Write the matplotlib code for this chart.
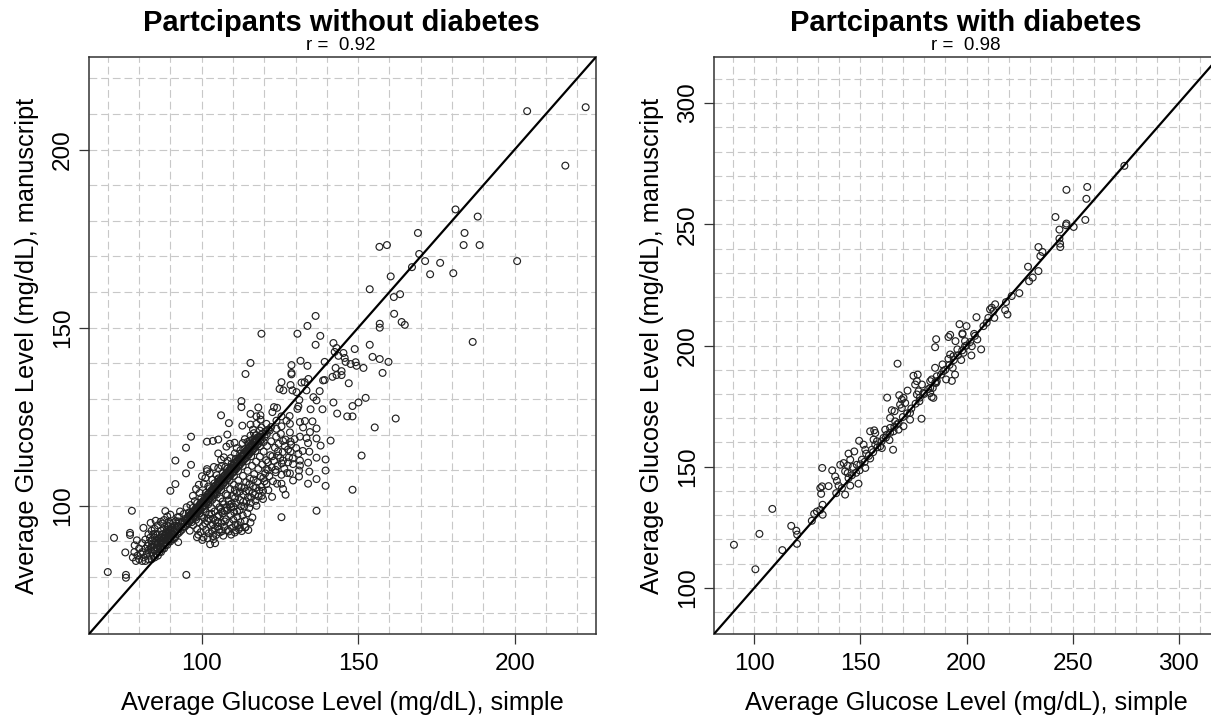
import numpy as np
import matplotlib
matplotlib.use("Agg")
import matplotlib.pyplot as plt

plt.rcParams['font.family'] = ['Liberation Sans', 'DejaVu Sans']

# ejes
left_ticks = [100, 150, 200]
right_ticks = [100, 150, 200, 250, 300]
left_grid = [70, 80, 90, 100, 110, 120, 130, 140, 150, 160, 170, 180, 190, 200, 210, 220]
right_grid = [90, 100, 110, 120, 130, 140, 150, 160, 170, 180, 190, 200, 210, 220, 230, 240,
              250, 260, 270, 280, 290, 300, 310]
left_lim = (64, 226)
right_lim = (81, 319)

# sin diabetes: puntos sueltos (simple, manuscript)
left_sparse = [
    (204, 210.8), (222.7, 211.9), (216.2, 195.5), (181.1, 183.2), (188.2, 181.2), (169.1, 176.6),
    (184, 176.6), (159.2, 173.2), (156.8, 172.7), (183.7, 173.2), (188.8, 173.2), (169.5, 170.7),
    (171.4, 168.7), (167.2, 167), (176.2, 168.2), (200.8, 168.7), (173, 165), (180.4, 165.3),
    (160.4, 164.4), (153.7, 160.8), (161.4, 158.6), (163.4, 159.4),
    (136.4, 153.3), (133.8, 150.5), (137.9, 147.7), (130.6, 148.3), (119.1, 148.3), (161.5, 153.9),
    (163.9, 151.6), (164.9, 150.8), (156.9, 151.1), (156.9, 150), (186.6, 146), (136.4, 145.2),
    (142.1, 145.7), (153.7, 145.2), (148.9, 144), (143.1, 144.3), (142.5, 143.2), (145.3, 142.9),
    (143.7, 142.1), (145.7, 141.5), (154.6, 141.8), (156.9, 141.2), (159.7, 140.4), (146, 140.4),
    (147.6, 139.8), (149.2, 140.3), (149.5, 139.3), (151.7, 138.7), (157.8, 137.3), (139.3, 140.4),
    (131.6, 140.7), (128.7, 139.5), (133.8, 139.3), (115.6, 140.1), (114, 137), (128.7, 137.3),
    (128.7, 136.9), (142.8, 138.7), (144.7, 137.8), (143.1, 136.7), (144.7, 136.7), (141.8, 136.2),
    (139.3, 135.3), (138.8, 135.2), (134.1, 135.6), (147, 134.4), (125.5, 134.7), (131.9, 134.6),
    (132.9, 134.7), (128.4, 133.9), (124.9, 132.8), (126.1, 132.4), (129, 132.4), (130.3, 131.9),
    (133.5, 132.4), (137.7, 132.2), (135.7, 130.5), (136.7, 129.6), (131.2, 129.7), (142.1, 129),
    (152.4, 130.3), (150.1, 129), (148.2, 128), (134.8, 127.1), (138.6, 127.1), (130.9, 127.9),
    (130.6, 127.2), (143.3, 125.9), (146.5, 125.1), (148.2, 125.1), (162, 124.5), (155.3, 122),
    (123.1, 127.7), (124.1, 127.5), (118.1, 127.6), (122.6, 126.3), (112.7, 129.4), (112.7, 127.7),
    (115.6, 125.8), (117.5, 125.1), (118.8, 125.4), (118.8, 124.2), (125.5, 125.1), (128.1, 125.2),
    (123.9, 123.9), (127.1, 123.9), (113, 122.5), (115.6, 122.8), (117.5, 123), (119.1, 122),
    (120.7, 123), (116.4, 121.4), (115.6, 119.7), (123.9, 121.6), (125.5, 122.3), (128.2, 123),
    (131.4, 123.5), (133, 123.8), (135.4, 123.7), (136.7, 121.7), (132.4, 122), (134.6, 120.7),
    (131.4, 119.4), (133.5, 119), (136.7, 118.9), (141.2, 118.3), (138, 116.9), (134, 117.6),
    (126, 118.2), (128.4, 118), (128.2, 120.6), (127.6, 115.8), (128.4, 115.2), (134.4, 115.2),
    (151.1, 114.1), (136.7, 113.5), (139.6, 113), (130.9, 114.6), (131.4, 112.7), (131.4, 111.3),
    (134, 112.1), (129.2, 111.7), (127.6, 112.2), (126, 112.7), (124.4, 114.1), (139.6, 109.9),
    (134.4, 109.6), (131.1, 109.9), (128.2, 109.1), (125.5, 108.7), (123.7, 109.4), (121.2, 110),
    (131.1, 108.2), (129.2, 107.1), (136.7, 107.5), (134, 106.2), (139.6, 105.6), (148.2, 104.5),
    (124.1, 106.2), (125.5, 106.2), (126, 104.7), (126.8, 103.1), (122.5, 102.5), (119.6, 101.9),
    (119.6, 104.2), (120.7, 106.1), (117.5, 100), (136.7, 98.6), (125.5, 96.8),
    (70, 81.4), (75.8, 80.6), (75.8, 79.8), (95.1, 80.6), (72, 91), (75.6, 86.9), (77.7, 98.6),
    (77.1, 92.4), (77.1, 91.8), (81.4, 93.8), (78.6, 88.9), (79.3, 90.3), (88.4, 98.5), (83.7, 95.2),
    (85.3, 95.8), (86.9, 95.5), (90, 104.2), (91.6, 106.1), (91.6, 112.7), (95, 109.1), (96.6, 111.5),
    (95, 116.3), (96.6, 119.4), (101.7, 118), (103.6, 118.2), (105.3, 118.6), (106.2, 125.4),
    (108.7, 123.2), (108.2, 120), (110.5, 117.7), (107.9, 116.6), (109, 117.4), (105.3, 114.7),
    (106.2, 112.9), (105.3, 110.6), (101.7, 110.3), (101.7, 109.7), (98.5, 91.2), (96.2, 93),
    (92.5, 89.8), (102.7, 89.2), (104.3, 89.5), (103.6, 91.5), (105.8, 92.5), (108.7, 92.8),
    (110.6, 92.5), (114, 94), (112.2, 93.9), (113.9, 93.9),
]

# sin diabetes: arranque de la nube, abajo a la izquierda
left_start = [
    (78, 85.5), (78.5, 87), (79, 84.5), (79.5, 86), (80, 85), (80, 88), (80.5, 86.5), (81, 84.5), (81, 87),
    (81, 89.5), (81.5, 85.5), (82, 88), (82, 90.5), (82, 84.5), (82.5, 86.5), (83, 85), (83, 87.5), (83, 89.5),
    (83, 92), (83.5, 86), (83.5, 91), (84, 85), (84, 87), (84, 88.5), (84, 90), (84, 93), (84.5, 86), (84.5, 92),
    (85, 85.5), (85, 87.5), (85, 89), (85, 91), (85, 93.5), (85.5, 86.5), (85.5, 90), (86, 86), (86, 88), (86, 89.5),
    (86, 92), (86, 94.5), (86.5, 87), (86.5, 91), (87, 87), (87, 88.5), (87, 90), (87, 93), (87.5, 88), (87.5, 92),
    (87.5, 95), (88, 88), (88, 89.5), (88, 91), (88, 93.5), (88, 96), (88.5, 89), (88.5, 92.5), (89, 89), (89, 90.5),
    (89, 92), (89, 94.5), (89, 97), (89.5, 90), (89.5, 93), (89.5, 95.5), (90, 90), (90, 91.5), (90, 93), (90, 95),
    (90, 97.5), (85.7, 88.3), (86.3, 90.7), (86.8, 89.2), (87.3, 91.1), (87.7, 89.6), (88.3, 90.4), (88.7, 91.3),
    (89.3, 91.6), (89.7, 92.4), (84.3, 89.1), (84.8, 87.6), (85.2, 92.2), (83.8, 88.2), (82.7, 88.7),
    (86.6, 88.1), (87.2, 90.2), (87.9, 90.8), (88.4, 91.8), (88.9, 93.2), (89.4, 94.2), (89.8, 91.1), (90.3, 92.2),
    (90.6, 93.8), (90.9, 95.1), (91.2, 92.9), (91.4, 94.4), (91.7, 95.7), (92.1, 94.2), (92.6, 95.6), (92.8, 96.9),
]

# sin diabetes: franja negra sobre la diagonal
left_core = [
    (90.4, 90.6), (90.8, 91.9), (91.1, 90.7), (91.3, 92.8), (91.6, 91.2), (91.9, 93.4), (92.2, 92.1), (92.4, 94.3),
    (92.7, 92.4), (92.9, 93.6), (93.2, 92.9), (93.4, 94.8), (93.7, 93.3), (93.9, 95.6), (94.2, 94.1), (94.4, 95.2),
    (94.7, 94.2), (94.9, 96.4), (95.1, 94.7), (95.3, 95.8), (95.6, 95.1), (95.8, 97.1), (96.1, 95.6), (96.2, 96.9),
    (96.5, 95.9), (96.7, 97.8), (96.9, 96.3), (97.1, 98.2), (97.3, 96.8), (97.4, 97.9), (97.7, 97.2), (97.9, 98.9),
    (98.1, 97.4), (98.2, 99.3), (98.4, 97.9), (98.6, 99.6), (98.8, 98.2), (99.1, 99.9), (99.2, 98.6), (99.4, 100.4),
    (99.6, 98.9), (99.8, 100.9), (100.1, 99.4), (100.2, 101.1), (100.4, 99.8), (100.7, 101.6), (100.9, 100.2),
    (101.1, 102.3), (101.3, 100.6), (101.4, 101.8), (101.7, 101.1), (101.9, 103.2), (102.1, 101.4), (102.3, 103.4),
    (102.4, 101.8), (102.7, 103.9), (102.9, 102.2), (103.1, 104.3), (103.2, 102.6), (103.4, 104.6), (103.7, 103.1),
    (103.9, 105.2), (104.1, 103.4), (104.2, 105.4), (104.4, 103.9), (104.7, 105.8), (104.9, 104.2), (105.1, 106.3),
    (105.2, 104.6), (105.4, 106.6), (105.7, 105.1), (105.9, 107.2), (106.1, 105.4), (106.2, 107.4), (106.4, 105.8),
    (106.7, 107.9), (106.9, 106.2), (107.1, 108.3), (107.2, 106.6), (107.4, 108.6), (107.7, 107.1), (107.9, 109.2),
    (108.1, 107.4), (108.2, 109.4), (108.4, 107.8), (108.7, 109.9), (108.9, 108.2), (109.1, 110.3), (109.2, 108.6),
    (109.4, 110.6), (109.7, 109.1), (109.9, 111.2), (110.1, 109.4), (110.2, 111.4), (110.4, 109.8), (110.7, 111.9),
    (110.9, 110.2), (111.1, 112.3), (111.2, 110.6), (111.4, 112.6), (111.7, 111.1), (111.9, 113.2), (112.1, 111.4),
    (112.2, 113.4), (112.4, 111.8), (112.7, 113.9), (112.9, 112.2), (113.1, 114.3), (113.2, 112.6), (113.4, 114.6),
    (113.7, 113.1), (113.9, 115.2), (114.1, 113.4), (114.2, 115.4), (114.4, 113.8), (114.7, 115.9), (114.9, 114.2),
    (115.1, 116.3), (115.2, 114.6), (115.4, 116.6), (115.7, 115.1), (115.9, 117.2), (116.1, 115.4), (116.2, 117.4),
    (116.4, 115.8), (116.7, 117.9), (116.9, 116.2), (117.1, 118.3), (117.2, 116.6), (117.4, 118.6), (117.7, 117.1),
    (117.9, 119.2), (118.1, 117.4), (118.4, 119.4), (118.7, 118.1), (118.9, 119.9), (119.2, 118.6), (119.6, 120.3),
    (120.1, 119.4), (120.4, 120.9), (120.8, 120.1), (121.3, 121.4), (121.7, 121.1), (122.2, 122.1),
    (96.3, 97.4), (97.6, 98.4), (98.9, 99.2), (100.3, 100.7), (101.6, 102.4), (102.8, 103.1), (104.3, 104.8),
    (105.6, 106.1), (106.8, 107.3), (108.3, 108.8), (109.6, 110.1), (110.8, 111.2), (112.3, 112.8), (113.6, 114.2),
    (114.8, 115.1), (116.3, 116.8), (117.6, 118.2), (118.8, 119.1),
    (95.4, 96.4), (96.6, 97.1), (97.2, 97.6), (98.3, 98.7), (99.3, 99.6), (100.6, 100.9), (101.2, 101.5), (102.2, 102.6),
    (103.3, 103.7), (104.6, 104.9), (105.3, 105.7), (106.3, 106.7), (107.3, 107.7), (108.6, 108.9), (109.3, 109.7),
    (110.3, 110.7), (111.3, 111.8), (112.6, 112.9), (113.3, 113.8), (114.3, 114.7), (115.3, 115.7), (116.6, 116.9),
    (117.3, 117.7), (118.3, 118.6), (96.8, 95.4), (98.1, 96.7), (99.4, 97.9), (100.7, 99.1), (102.1, 100.4), (103.4, 101.7),
    (104.8, 103.2), (106.2, 104.4), (107.6, 105.9), (108.9, 107.1), (110.3, 108.4), (111.6, 109.8), (113.1, 111.2),
    (114.4, 112.6), (115.8, 113.9), (117.2, 115.4), (118.6, 116.7), (119.8, 117.9), (95.9, 98.1), (97.2, 99.4),
    (98.6, 100.8), (99.9, 102.2), (101.3, 103.6), (102.6, 104.9), (104.1, 106.3), (105.4, 107.7), (106.8, 109.1),
    (108.1, 110.4), (109.6, 111.8), (110.9, 113.2), (112.3, 114.6), (113.7, 115.9), (115.1, 117.3), (116.4, 118.6),
]

# sin diabetes: puntos por encima de la franja
left_above = [
    (92.3, 96.8), (93.1, 98.4), (94.3, 97.7), (95.2, 99.6), (96.4, 100.2), (97.8, 101.3), (99.4, 103.6), (100.7, 106.2),
    (101.2, 107.8), (102.1, 105.4), (102.6, 109.1), (103.4, 107.3), (103.9, 110.9), (104.8, 108.6), (105.3, 107.4),
    (106.4, 111.2), (107.1, 113.6), (107.6, 110.9), (108.4, 112.6), (109.3, 113.4), (110.6, 114.7), (111.2, 116.2),
    (112.4, 115.6), (113.1, 117.6), (113.8, 118.7), (114.6, 117.9), (115.4, 118.3), (116.7, 120.4), (117.3, 119.8),
    (118.6, 121.1), (98.2, 104.7), (99.1, 105.9), (100.1, 108.3), (97.2, 102.8),
]

# sin diabetes: nube bajo la diagonal
left_below = [
    (97.3, 94.6), (98.2, 96.1), (98.6, 93.4), (99.1, 95.4), (99.7, 92.6), (99.9, 97.2), (100.4, 94.3), (100.8, 96.6),
    (100.6, 91.1), (101.3, 98.2), (101.4, 93.2), (101.8, 95.7), (102.3, 92.3), (102.4, 97.6), (102.9, 94.4), (103.2, 99.3),
    (103.3, 92.9), (103.7, 96.4), (104.1, 98.4), (104.2, 93.7), (104.6, 91.8), (104.7, 100.6), (105.1, 95.4), (105.4, 97.3),
    (105.6, 93.3), (105.9, 102.1), (106.1, 99.1), (106.3, 95.2), (106.6, 92.9), (106.8, 97.9), (107.1, 100.4), (107.2, 94.1),
    (107.7, 103.3), (107.8, 96.2), (108.1, 98.7), (108.3, 93.2), (108.6, 101.4), (108.8, 95.3), (109.1, 104.7), (109.2, 97.4),
    (109.4, 99.6), (109.7, 93.8), (109.9, 102.7), (110.1, 96.1), (110.3, 105.9), (110.4, 98.2), (110.8, 94.7), (111.1, 100.8),
    (111.2, 103.6), (111.4, 96.9), (111.7, 107.1), (111.9, 93.4), (112.1, 98.7), (112.3, 101.6), (112.4, 95.4), (112.7, 105.2),
    (113.1, 97.3), (113.2, 108.4), (113.4, 103.1), (113.6, 99.8), (113.8, 95.8), (114.2, 106.6), (114.3, 101.2), (114.6, 97.9),
    (114.7, 109.8), (115.1, 104.2), (115.2, 99.4), (115.4, 107.6), (115.8, 102.3), (116.1, 111.2), (116.2, 96.7), (116.4, 105.4),
    (116.8, 108.9), (117.1, 103.1), (117.2, 101.4), (117.4, 112.4), (117.8, 106.7), (118.1, 110.3), (118.4, 104.3), (118.6, 113.8),
    (118.9, 108.1), (119.2, 102.8), (119.4, 111.6), (119.8, 115.2), (120.1, 106.9), (120.3, 109.1), (120.6, 112.8), (120.9, 116.8),
    (121.3, 104.4), (121.6, 108.3), (121.9, 114.2), (122.2, 118.1), (122.4, 110.8), (122.8, 106.9), (123.1, 112.6), (123.4, 116.3),
    (123.8, 119.4), (124.2, 111.2), (124.6, 117.4), (125.1, 113.4), (125.3, 120.2), (125.9, 115.1), (126.4, 110.4), (126.8, 118.6),
    (127.3, 109.2), (127.9, 113.6), (128.6, 117.2), (129.1, 113.3), (129.7, 118.7), (130.2, 116.2), (132.3, 115.4),
    (98.9, 91.9), (100.2, 90.4), (101.9, 90.9), (103.8, 90.6), (105.2, 94.2), (106.9, 91.6), (107.4, 95.6), (109.4, 91.9),
    (110.9, 93.1), (111.6, 94.6), (112.8, 92.9), (114.9, 93.2), (115.6, 95.3), (103.6, 94.8), (104.9, 96.9), (106.4, 98.3),
    (107.9, 99.4), (109.6, 100.6), (110.7, 102.2), (112.2, 104), (113.7, 105.1), (115.3, 106.1), (116.6, 107.4),
    (101.1, 95.1), (102.2, 96.4), (103.1, 97.8), (104.4, 95.9), (105.7, 99.6), (106.7, 101.2), (107.3, 98.6), (108.2, 102.9),
    (108.9, 100.3), (110.2, 99.7), (110.6, 104.4), (111.3, 98.4), (111.8, 105.4), (112.6, 99.9), (113.3, 101.1), (114.1, 104.1),
    (114.8, 102.4), (115.7, 100.8), (116.3, 103.6), (117.4, 105.1), (118.2, 102.6), (119.1, 105.3), (119.7, 107.8), (120.7, 110.3),
    (121.2, 112.2), (122.6, 113.9), (123.6, 110.1), (124.4, 115.3), (125.6, 111.9), (126.6, 116.7),
]

# con diabetes (simple, manuscript)
right_points = [
    (90.4, 117.8), (100.5, 107.7), (102.4, 122.3), (108.5, 132.6), (113.2, 115.6), (117.4, 125.6), (119.8, 123.6),
    (120.2, 122), (120.1, 118.2), (127.1, 127.7), (128.2, 130.6), (129.5, 131.5), (131.1, 132.2), (132.2, 130.2),
    (132.2, 134.3), (131.5, 138.8), (131.9, 141.9), (131.1, 141.2), (135, 142), (132, 149.5), (136.7, 148.5),
    (138.1, 146), (138.9, 144.2), (139.7, 142.2), (138.6, 139.1), (141.3, 141.2), (142.8, 138.5), (145.2, 142.2),
    (149.1, 143), (140.5, 150.8), (142.1, 151.5), (144, 150.4), (142.8, 148.1), (144.4, 145.3), (144, 147.4),
    (144.4, 155.4), (147.1, 156.3), (145.2, 152.9), (146.4, 149.9), (148.3, 150.8), (149.6, 148.5), (152.3, 149.5),
    (149.4, 160.7), (151.5, 159.1), (152.3, 157), (152.7, 155.4), (150.7, 152.9), (154.6, 153.4), (154.6, 164.6),
    (156.5, 165), (157, 163.9), (156.2, 161.2), (157.8, 160.5), (159.3, 158.4), (160.1, 157.7), (157, 159.1),
    (155.4, 157), (161.7, 165.3), (164, 166), (162.5, 163.2), (160.9, 161.9), (163.7, 161), (165.4, 157),
    (164.8, 173.3), (166.1, 172.9), (164, 170.1), (166.4, 168.7), (167.2, 167.4), (165.6, 164.6), (168, 165.3),
    (170.3, 166.7), (173.4, 169.4), (178.8, 169.8), (173.4, 172.2), (162.6, 178.5), (168.3, 179.5), (172.2, 181.4),
    (169.5, 177.7), (168.7, 175.6), (170.3, 178.4), (171.1, 176.3), (169.5, 174.2), (176.6, 179.8), (177.4, 181.1),
    (177.8, 177), (179.7, 180.4), (182.9, 180.4), (184.4, 178.4), (182.9, 182.5), (185.2, 184.6), (186, 185.3),
    (175.8, 183.9), (176.6, 185.3), (179, 183.9), (182.9, 185.3), (167.5, 192.5), (175, 187.5), (177, 188),
    (274.4, 274.1), (256.9, 265.4), (247.1, 264.2), (256.5, 260.5), (256, 251.8), (241.9, 253), (247.1, 250.3),
    (246.9, 249.6), (250.5, 248.9), (243.8, 247.8), (243.8, 244.1), (244.1, 242), (244.2, 240.6), (233.9, 240.6),
    (235.8, 238.6), (234.8, 236.9), (229, 232.5), (233.9, 230.7), (231.2, 228), (229.5, 226.5), (224.9, 221.6),
    (221.3, 220.4), (218.6, 217.9), (213.5, 217), (211.9, 215.6), (212.7, 214.2), (211.1, 214.9), (218.2, 214.6),
    (219.3, 212.8), (213.1, 211.4), (210.3, 211.4), (209.5, 209.4), (204.7, 211.7), (196.7, 208.8), (200, 208),
    (198.1, 205), (198.1, 204.6), (192.3, 204.4), (191.5, 203.5), (185.7, 202.6), (185.2, 199.3), (203.6, 204.8),
    (205.1, 202.5), (206.9, 198.4), (202.3, 195.9), (202.5, 199.7), (194.8, 201.8), (199.3, 201.8), (201.7, 201.4),
    (199.3, 199.7), (195.7, 198.4), (198.6, 197), (197.5, 194), (193.8, 195.6), (192.3, 196.3), (191.5, 194.5),
    (193.5, 190.8), (188.7, 192.2), (185.2, 190.8), (194.6, 188), (190.4, 186), (193.1, 185.4), (189.1, 189.4),
    (186, 187.3), (183.6, 186), (184.1, 182.5), (185.7, 184.6), (183.6, 178.8),
    (146, 146.5), (148, 147.5), (150, 151), (152, 152), (154, 154.5), (156, 156), (158, 158), (160, 160.5), (162, 162),
    (164, 164), (166, 166.5), (168, 168), (170, 170.5), (172, 172), (174, 174), (176, 176), (178, 178.5), (180, 180),
    (182, 182), (188, 188), (190, 190), (192, 192), (194, 194), (196, 196), (198, 198), (200, 200), (204, 204), (208, 208),
]


def panel(ax, points, lim, ticks, grid):
    ax.set_xlim(lim)
    ax.set_ylim(lim)
    ax.set_xticks(ticks)
    ax.set_yticks(ticks)
    for g in grid:
        ax.axvline(g, color='#c8c8c8', lw=0.8, ls=(0, (7, 3.5)), zorder=1)
        ax.axhline(g, color='#c8c8c8', lw=0.8, ls=(0, (7, 3.5)), zorder=1)
    pts = np.array(points)
    ax.scatter(pts[:, 0], pts[:, 1], s=24, facecolors='none', edgecolors='#222222', linewidths=0.85, zorder=2)
    ax.plot(lim, lim, color='black', lw=1.6, zorder=3)
    ax.tick_params(axis='both', length=7, width=0.9, color='#333333', labelsize=17.5)
    ax.tick_params(axis='x', pad=7)
    ax.tick_params(axis='y', pad=4)
    for lab in ax.get_yticklabels():
        lab.set_rotation(90)
        lab.set_verticalalignment('center')
    for s in ax.spines.values():
        s.set_color('#333333')
        s.set_linewidth(1.1)
    ax.set_xlabel('Average Glucose Level (mg/dL), simple', fontsize=18.2, labelpad=11)
    ax.set_ylabel('Average Glucose Level (mg/dL), manuscript', fontsize=18.3, labelpad=9.5)


W, H = 1211, 719
fig = plt.figure(figsize=(W / 100, H / 100), dpi=100, facecolor='white')
ax1 = fig.add_axes([89 / W, 1 - 634 / H, 507 / W, 577 / H])
ax2 = fig.add_axes([714 / W, 1 - 634 / H, 505 / W, 577 / H])

panel(ax1, left_sparse + left_start + left_core + left_above + left_below, left_lim, left_ticks, left_grid)
panel(ax2, right_points, right_lim, right_ticks, right_grid)

fig.text(341 / W, 1 - 23 / H, 'Partcipants without diabetes', fontsize=21, fontweight='bold', ha='center', va='center')
fig.text(341 / W, 1 - 46 / H, 'r =  0.92', fontsize=13.5, ha='center', va='center')
fig.text(966 / W, 1 - 23 / H, 'Partcipants with diabetes', fontsize=21, fontweight='bold', ha='center', va='center')
fig.text(966 / W, 1 - 46 / H, 'r =  0.98', fontsize=13.5, ha='center', va='center')

fig.savefig('out.png', dpi=100)
